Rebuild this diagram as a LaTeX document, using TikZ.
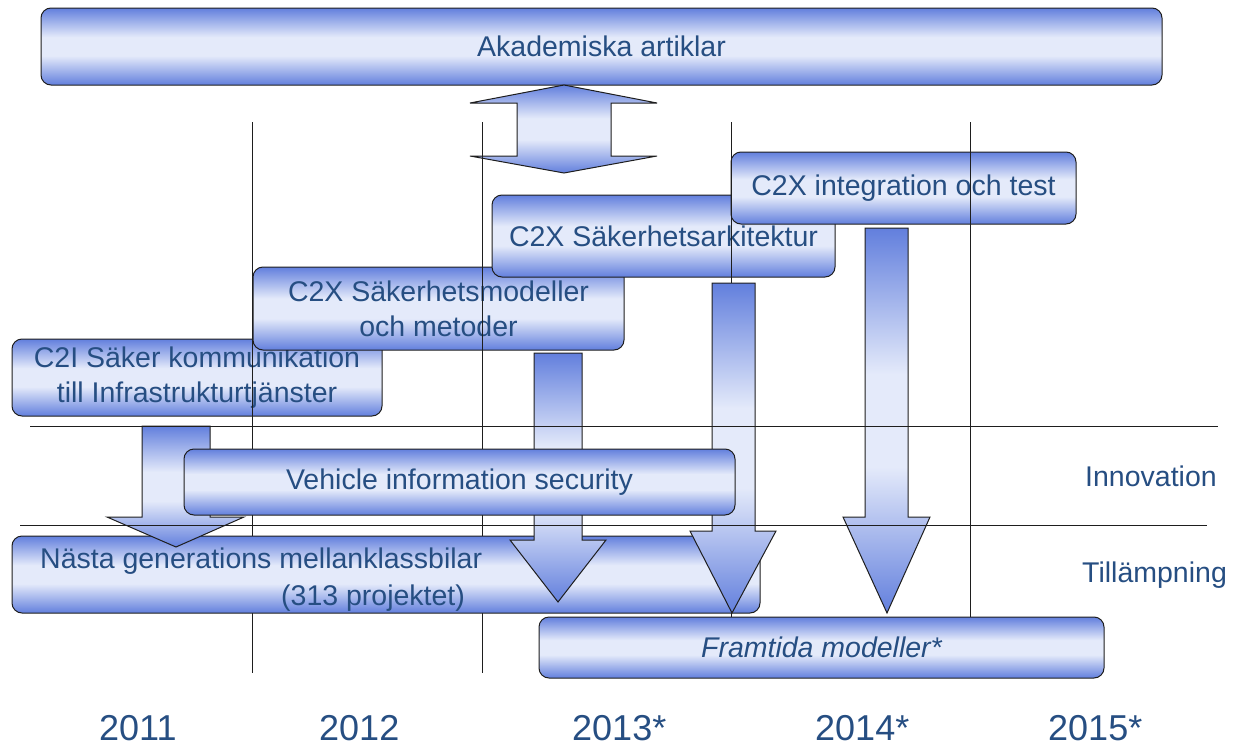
\documentclass[tikz,border=0pt]{standalone}
\usepackage{fontspec}
\setmainfont{Liberation Sans}
\definecolor{dk}{RGB}{98,127,221}
\definecolor{lt}{RGB}{228,234,250}
\definecolor{txt}{RGB}{38,78,130}
\definecolor{ln}{RGB}{30,30,30}
\pgfdeclareverticalshading{bar}{100bp}{color(0bp)=(dk); color(25bp)=(dk); color(44bp)=(lt); color(56bp)=(lt); color(75bp)=(dk); color(100bp)=(dk)}
\newcommand\txtsize{\fontsize{28.5}{35}\selectfont}
\newcommand\yrsize{\fontsize{36}{40}\selectfont}
\tikzset{
  box/.style={draw=ln, line width=1pt, rounded corners=10pt, shade, shading=bar, text=txt, font=\txtsize, inner sep=0pt, align=center},
  barrow/.style={draw=ln, line width=1pt, shade, shading=bar, line join=miter},
  gridline/.style={draw=ln, line width=1pt},
  lbl/.style={text=txt, font=\txtsize, inner sep=0pt, anchor=base west},
  year/.style={text=txt, font=\yrsize, inner sep=0pt, anchor=base west}
}
\begin{document}
\begin{tikzpicture}[x=1pt,y=-1pt]
\useasboundingbox (0,0) rectangle (1243,747);
% top box and double arrow
\node[box, minimum width=1121pt, minimum height=77pt] (akad) at (601.5,46.5) {Akademiska artiklar};
\path[barrow] (564,85) -- (657,103) -- (611,103) -- (611,156) -- (657,156) -- (564,173) -- (470,156) -- (517,156) -- (517,103) -- (470,103) -- cycle;
% upper boxes
\node[box, minimum width=370pt, minimum height=77pt] (c2i) at (197,377.5) {C2I Säker kommunikation\\till Infrastrukturtjänster};
\node[box, minimum width=371pt, minimum height=83pt] (model) at (438.5,308.5) {C2X Säkerhetsmodeller\\och metoder};
\node[box, minimum width=343pt, minimum height=82pt] (arki) at (663.5,236) {C2X Säkerhetsarkitektur};
\node[box, minimum width=345pt, minimum height=72pt] (integ) at (903.5,188) {C2X integration och test};
% vertical lines
\coordinate (v1t) at (252,122); \coordinate (v1b) at (252,673);
\coordinate (v2t) at (482,122); \coordinate (v2b) at (482,673);
\coordinate (v3t) at (731,122); \coordinate (v3b) at (731,673);
\coordinate (v4t) at (970,122); \coordinate (v4b) at (970,673);
\draw[gridline] (v1t) -- (v1b);
\draw[gridline] (v2t) -- (v2b);
\draw[gridline] (v3t) -- (v3b);
\draw[gridline] (v4t) -- (v4b);
% lower boxes
\node[box, minimum width=748pt, minimum height=77pt] (nasta) at (386,574.5) {};
\node[lbl] (nasta1) at (40,568) {Nästa generations mellanklassbilar};
\node[lbl] (nasta2) at (281,605) {(313 projektet)};
\node[box, minimum width=565pt, minimum height=61pt, font=\txtsize\itshape] (fram) at (821.5,647.5) {Framtida modeller*};
% block arrows
\path[barrow] (142,426) -- (210,426) -- (210,517) -- (244,517) -- (176,547) -- (107,517) -- (142,517) -- cycle;
\path[barrow] (534,353) -- (582,353) -- (582,540) -- (606,540) -- (558,602) -- (510,540) -- (534,540) -- cycle;
\path[barrow] (712,283) -- (755,283) -- (755,531) -- (776,531) -- (732,613) -- (690,531) -- (712,531) -- cycle;
\path[barrow] (865,228) -- (908,228) -- (908,517) -- (930,517) -- (887,613) -- (843,517) -- (865,517) -- cycle;
% horizontal lines
\coordinate (h1l) at (30,426); \coordinate (h1r) at (1218,426);
\coordinate (h2l) at (20,525); \coordinate (h2r) at (1207,525);
\draw[gridline] (h1l) -- (h1r);
\draw[gridline] (h2l) -- (h2r);
% vehicle box
\node[box, minimum width=551pt, minimum height=66pt] (veh) at (459.5,482) {Vehicle information security};
% side labels
\node[lbl] (inno) at (1085,486) {Innovation};
\node[lbl] (till) at (1082,582) {Tillämpning};
% years
\node[year] (y1) at (99,740) {2011};
\node[year] (y2) at (319,740) {2012};
\node[year] (y3) at (572,740) {2013*};
\node[year] (y4) at (815,740) {2014*};
\node[year] (y5) at (1048,740) {2015*};
\end{tikzpicture}
\end{document}
